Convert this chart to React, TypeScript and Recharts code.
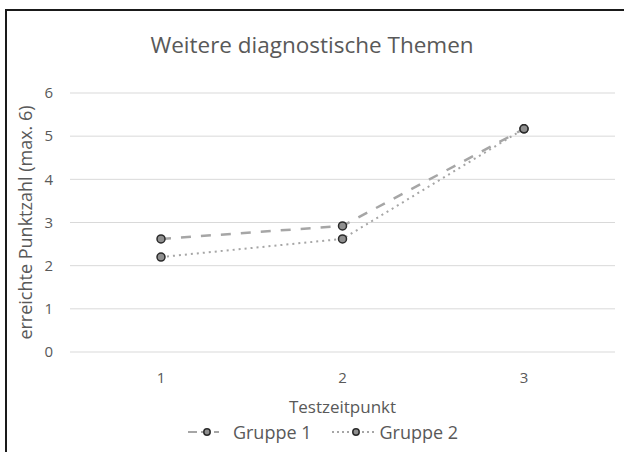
import React from 'react';
import { LineChart, Line, XAxis, YAxis, CartesianGrid, Legend, Label } from 'recharts';

const categories = ['1', '2', '3'];
const gruppe1 = [2.62, 2.92, 5.17];
const gruppe2 = [2.2, 2.62, 5.17];
const yTicks = [0, 1, 2, 3, 4, 5, 6];
const seriesNames = ['Gruppe 1', 'Gruppe 2'];
const title = 'Weitere diagnostische Themen';
const xTitle = 'Testzeitpunkt';
const yTitle = 'erreichte Punktzahl (max. 6)';

const data = categories.map((c, i) => ({ t: c, g1: gruppe1[i], g2: gruppe2[i] }));

const FONT = '"Open Sans", "Noto Sans", sans-serif';
const TEXT = '#595959';
const LINE = '#a6a6a6';
const MFILL = '#8f8f8f';
const MSTROKE = '#2b2b2b';

const dashes = ['10 10', '2 4'];

const renderLegend = () => (
  <div style={{ display: 'flex', justifyContent: 'center', alignItems: 'center', height: 20, fontFamily: FONT, fontSize: 18, color: TEXT, paddingLeft: 22 }}>
    {seriesNames.map((n, i) => (
      <div key={n} style={{ display: 'flex', alignItems: 'center', marginRight: i === 0 ? 20 : 0 }}>
        <svg width={i === 0 ? 31 : 43} height={12} style={{ marginRight: i === 0 ? 14 : 5 }}>
          <line x1={0} y1={6} x2={i === 0 ? 31 : 43} y2={6} stroke={LINE} strokeWidth={2} strokeDasharray={i === 0 ? '9 4' : '2 3'} />
          <circle cx={i === 0 ? 19 : 24} cy={6} r={3.2} fill={MFILL} stroke={MSTROKE} strokeWidth={1.5} />
        </svg>
        <span>{n}</span>
      </div>
    ))}
  </div>
);

export default function App() {
  return (
    <div style={{ position: 'absolute', left: 0, top: 0, width: 624, height: 452, background: '#fff' }}>
      <div style={{ position: 'absolute', left: 5, top: 9, width: 619, height: 443, borderTop: '2px solid #1a1a1a', borderLeft: '2px solid #1a1a1a' }} />
      <div style={{ position: 'absolute', left: 0, top: 29, width: 624, textAlign: 'center', fontFamily: FONT, fontSize: 22.5, color: TEXT, lineHeight: '32px' }}>{title}</div>
      <div style={{ position: 'absolute', left: 0, top: 0 }}>
        <LineChart width={624} height={452} data={data} margin={{ top: 93, right: 9, bottom: 10, left: 0 }}>
          <CartesianGrid vertical={false} stroke="#d9d9d9" strokeWidth={1} />
          <XAxis dataKey="t" tickLine={false} axisLine={false} tickSize={0} tickMargin={20} height={70}
            padding={{ left: 91, right: 91 }}
            tick={{ fill: TEXT, fontSize: 15, fontFamily: FONT }}>
            <Label value={xTitle} position="insideBottom" offset={9} style={{ fill: TEXT, fontSize: 17, fontFamily: FONT }} />
          </XAxis>
          <YAxis domain={[0, 6]} ticks={yTicks} tickLine={false} axisLine={false} tickSize={0} tickMargin={17} width={70}
            tick={{ fill: TEXT, fontSize: 15, fontFamily: FONT }}>
            <Label value={yTitle} angle={-90} position="insideLeft" offset={26} style={{ textAnchor: 'middle', fill: TEXT, fontSize: 18, fontFamily: FONT }} />
          </YAxis>
          <Legend verticalAlign="bottom" content={renderLegend} wrapperStyle={{ left: 0, width: 624 }} />
          <Line dataKey="g1" name={seriesNames[0]} stroke={LINE} strokeWidth={2.5} strokeDasharray={dashes[0]} isAnimationActive={false}
            dot={{ r: 4, fill: MFILL, stroke: MSTROKE, strokeWidth: 1.5, strokeDasharray: '' }} />
          <Line dataKey="g2" name={seriesNames[1]} stroke={LINE} strokeWidth={2} strokeDasharray={dashes[1]} isAnimationActive={false}
            dot={{ r: 4, fill: MFILL, stroke: MSTROKE, strokeWidth: 1.5, strokeDasharray: '' }} />
        </LineChart>
      </div>
    </div>
  );
}
